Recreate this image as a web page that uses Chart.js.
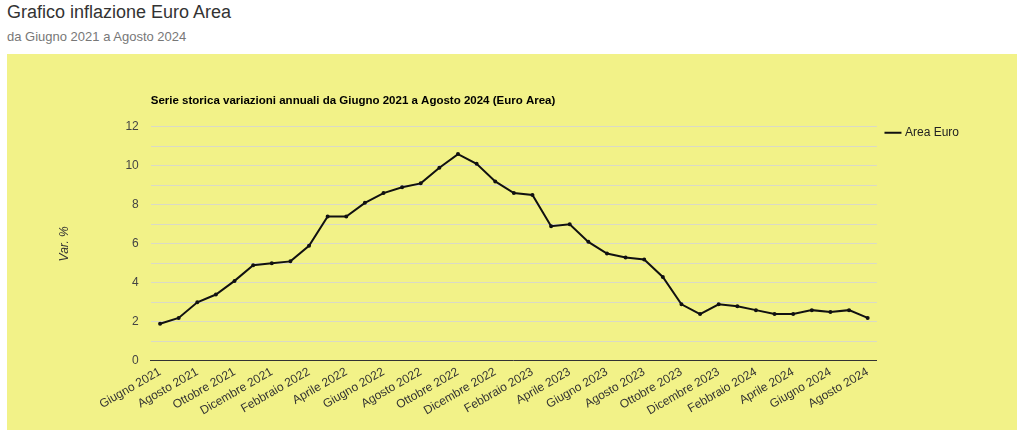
<!DOCTYPE html>
<html lang="it">
<head>
    <meta charset="UTF-8">
    <title>Grafico inflazione Euro Area</title>
    <script src="https://cdn.jsdelivr.net/npm/chart.js"></script>
    <style>
        body { margin: 0; background: #fff; font-family: "Liberation Sans", Arial, sans-serif; }
        h1 { position: absolute; left: 7px; top: 2px; margin: 0; font-size: 18px; font-weight: normal; color: #333; }
        .sub { position: absolute; left: 7px; top: 29px; font-size: 13px; color: #777; }
        #box { position: absolute; left: 7px; top: 54px; width: 1010px; height: 376px; background: #f2f288; }
    </style>
</head>
<body>
    <h1>Grafico inflazione Euro Area</h1>
    <div class="sub">da Giugno 2021 a Agosto 2024</div>
    <div id="box"><canvas id="inflChart"></canvas></div>
    <script>
        const nomiMesi = ['Gennaio', 'Febbraio', 'Marzo', 'Aprile', 'Maggio', 'Giugno', 'Luglio',
            'Agosto', 'Settembre', 'Ottobre', 'Novembre', 'Dicembre'];
        // da Giugno 2021 a Agosto 2024
        const labels = [];
        for (let i = 0; i < 39; i++) {
            const m = (5 + i) % 12;
            const anno = 2021 + Math.floor((5 + i) / 12);
            labels.push(nomiMesi[m] + ' ' + anno);
        }
        const areaEuro = [1.9, 2.2, 3.0, 3.4, 4.1, 4.9, 5.0, 5.1, 5.9, 7.4, 7.4, 8.1, 8.6, 8.9, 9.1, 9.9,
            10.6, 10.1, 9.2, 8.6, 8.5, 6.9, 7.0, 6.1, 5.5, 5.3, 5.2, 4.3, 2.9, 2.4, 2.9, 2.8, 2.6, 2.4,
            2.4, 2.6, 2.5, 2.6, 2.2];

        const font = 'Liberation Sans, Arial, sans-serif';

        // legenda un po' più in alto, allineata alla prima linea della griglia
        const alzaLegenda = {
            id: 'alzaLegenda',
            afterLayout(chart) {
                if (chart.legend) chart.legend.top -= 10;
            }
        };

        const ctx = document.getElementById('inflChart').getContext('2d');
        new Chart(ctx, {
            type: 'line',
            data: {
                labels: labels,
                datasets: [{
                    label: 'Area Euro',
                    data: areaEuro,
                    borderColor: '#111',
                    backgroundColor: '#111',
                    borderWidth: 2,
                    pointRadius: 1,
                    tension: 0
                }]
            },
            options: {
                responsive: true,
                maintainAspectRatio: false,
                animation: false,
                layout: { padding: { left: 50, right: 48, bottom: 8, top: 0 } },
                scales: {
                    x: {
                        offset: true,
                        grid: { display: false, drawTicks: false },
                        border: { color: '#333', width: 1 },
                        ticks: {
                            autoSkip: false,
                            maxRotation: 30,
                            minRotation: 30,
                            padding: 4,
                            color: '#333',
                            font: { family: font, size: 12 },
                            callback: function (v, i) { return i % 2 === 0 ? this.getLabelForValue(v) : ''; }
                        }
                    },
                    y: {
                        min: 0,
                        max: 12,
                        grid: { color: '#dadac6', drawTicks: false },
                        border: { display: false },
                        ticks: {
                            stepSize: 1,
                            padding: 12,
                            color: '#444',
                            font: { family: font, size: 12 },
                            callback: v => v % 2 === 0 ? v : ''
                        },
                        title: {
                            display: true,
                            text: 'Var. %',
                            color: '#333',
                            padding: { top: 0, bottom: 42 },
                            font: { family: font, size: 12, style: 'italic' }
                        }
                    }
                },
                plugins: {
                    title: {
                        display: true,
                        text: 'Serie storica variazioni annuali da Giugno 2021 a Agosto 2024 (Euro Area)',
                        align: 'start',
                        fullSize: false,
                        color: '#000',
                        padding: { top: 40, bottom: 19 },
                        font: { family: font, size: 11.5, weight: 'bold' }
                    },
                    legend: {
                        position: 'right',
                        align: 'start',
                        fullSize: false,
                        labels: {
                            usePointStyle: true,
                            pointStyle: 'line',
                            boxWidth: 25,
                            color: '#222',
                            font: { family: font, size: 12 }
                        }
                    },
                    tooltip: { enabled: false }
                }
            },
            plugins: [alzaLegenda]
        });
    </script>
</body>
</html>
